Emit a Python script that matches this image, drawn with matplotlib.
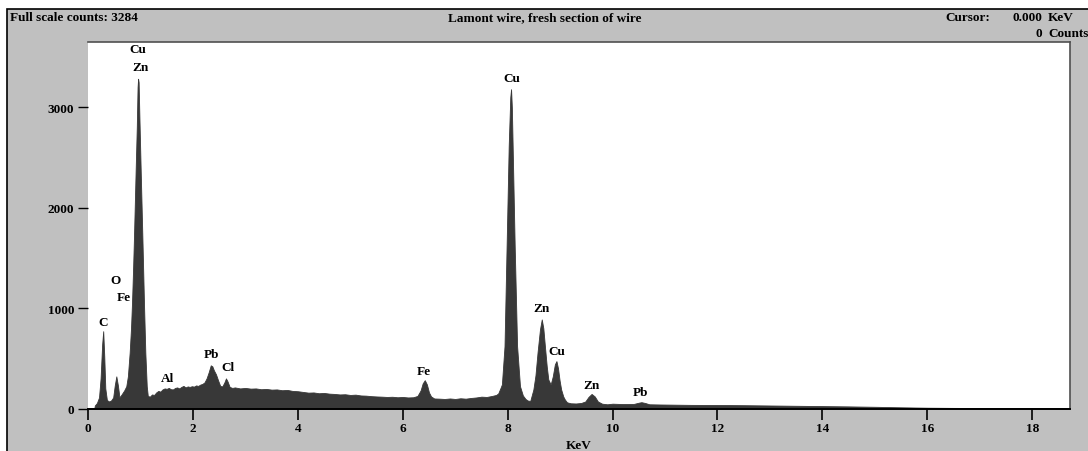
import numpy as np
import matplotlib.pyplot as plt
from matplotlib.patches import Rectangle

# spectrum: energy (keV) and counts
energy = [0.00, 0.12, 0.13, 0.17, 0.21, 0.24, 0.27, 0.29, 0.31, 0.33, 0.36, 0.40, 0.44,
          0.48, 0.51, 0.54, 0.57, 0.60, 0.64, 0.69, 0.73, 0.76, 0.794, 0.82, 0.839,
          0.86, 0.877, 0.909, 0.93, 0.945, 0.955, 0.965, 0.98, 1.004, 1.036, 1.067,
          1.093, 1.12, 1.14, 1.18, 1.22, 1.26, 1.30, 1.34, 1.38, 1.42, 1.46, 1.50,
          1.54, 1.58, 1.62, 1.66, 1.70, 1.74, 1.78, 1.82, 1.86, 1.90, 1.94, 1.98,
          2.02, 2.06, 2.10, 2.14, 2.18, 2.22, 2.26, 2.30, 2.34, 2.37, 2.40, 2.44,
          2.48, 2.52, 2.56, 2.60, 2.63, 2.66, 2.70, 2.75, 2.80, 2.90, 3.00, 3.10,
          3.20, 3.30, 3.40, 3.50, 3.60, 3.70, 3.80, 3.90, 4.00, 4.10, 4.20, 4.30,
          4.40, 4.50, 4.60, 4.70, 4.80, 4.90, 5.00, 5.10, 5.20, 5.30, 5.40, 5.50,
          5.60, 5.70, 5.80, 5.90, 6.00, 6.10, 6.20, 6.28, 6.34, 6.38, 6.42, 6.46,
          6.50, 6.54, 6.60, 6.70, 6.80, 6.90, 7.00, 7.10, 7.20, 7.30, 7.40, 7.50,
          7.60, 7.70, 7.78, 7.82, 7.86, 7.89, 7.94, 7.98, 8.02, 8.05, 8.065, 8.08,
          8.095, 8.134, 8.18, 8.235, 8.29, 8.34, 8.38, 8.43, 8.49, 8.53, 8.57,
          8.616, 8.65, 8.68, 8.71, 8.745, 8.775, 8.82, 8.86, 8.90, 8.93, 8.96, 8.99,
          9.02, 9.06, 9.09, 9.13, 9.20, 9.30, 9.40, 9.48, 9.54, 9.60, 9.66, 9.72,
          9.80, 9.90, 10.0, 10.2, 10.4, 10.5, 10.55, 10.62, 10.7, 10.9, 11.2, 11.5,
          12.0, 12.5, 13.0, 13.5, 14.0, 14.5, 15.0, 15.5, 16.0, 16.5, 17.0, 17.5,
          18.0, 18.72]
counts = [0, 0, 30, 55, 110, 300, 640, 770, 520, 200, 85, 70, 80,
          110, 230, 320, 230, 110, 140, 180, 222, 320, 555, 800, 1054,
          1400, 1718, 2383, 2800, 3200, 3284, 3250, 2900, 2383, 1718, 1054,
          555, 222, 125, 118, 140, 135, 160, 175, 168, 190, 200, 196,
          205, 192, 190, 205, 210, 200, 215, 225, 210, 220, 215, 222,
          218, 230, 225, 238, 245, 260, 300, 360, 430, 420, 380, 340,
          280, 225, 220, 260, 300, 270, 215, 205, 210, 200, 205, 198,
          200, 192, 195, 188, 190, 182, 185, 175, 172, 165, 158, 160,
          152, 155, 148, 145, 140, 142, 135, 138, 130, 128, 123, 120,
          118, 115, 117, 112, 115, 110, 112, 125, 180, 250, 282, 240,
          160, 120, 100, 98, 95, 100, 95, 102, 98, 105, 110, 118,
          115, 125, 135, 150, 200, 240, 620, 1618, 2615, 3100, 3180, 3000,
          2615, 1618, 621, 222, 130, 95, 80, 75, 189, 330, 560,
          788, 887, 800, 621, 420, 289, 239, 320, 440, 472, 400, 280,
          189, 120, 90, 62, 52, 50, 55, 70, 115, 145, 120, 70,
          48, 42, 48, 44, 45, 58, 63, 55, 42, 40, 38, 36,
          35, 33, 30, 27, 24, 21, 17, 12, 8, 6, 5, 4,
          3, 2]

# element labels: text, keV, counts
label_txt = ["Cu", "Zn", "O", "Fe", "C", "Al", "Pb", "Cl", "Fe", "Cu", "Zn", "Cu", "Zn", "Pb"]
label_x = [0.953, 1.01, 0.515, 0.686, 0.286, 1.506, 2.345, 2.669, 6.405, 8.082, 8.654, 8.94, 9.607, 10.54]
label_y = [3579, 3400, 1276, 1107, 857, 299, 538, 409, 369, 3290, 997, 568, 239, 160]

xticks = [0, 2, 4, 6, 8, 10, 12, 14, 16, 18]
yticks = [0, 1000, 2000, 3000]

W, H = 1088, 452
plt.rcParams['font.family'] = ['Liberation Serif', 'DejaVu Serif']
plt.rcParams['font.weight'] = 'bold'
fs = 9.5

fig = plt.figure(figsize=(W / 100, H / 100), dpi=100, facecolor='white')

# grey panel with black top/left border
fig.add_artist(Rectangle((7 / W, -0.1), 1.2, 1.1 - 10 / H, transform=fig.transFigure,
                         facecolor='#c0c0c0', edgecolor='black', lw=1.2, zorder=0))

ax = fig.add_axes([88 / W, 1 - 409.5 / H, (1070 - 88) / W, (409.5 - 43) / H])
ax.set_facecolor('white')
ax.fill_between(energy, counts, 0, color='#383838', lw=0.6, edgecolor='#383838')

for t, x, y in zip(label_txt, label_x, label_y):
    ax.text(x, y, t, ha='center', va='center', fontsize=fs, fontweight='bold')

ax.set_xlim(0, 18.72)
ax.set_ylim(0, 3650)
ax.set_xticks(xticks)
ax.set_yticks(yticks)
ax.set_xticklabels([str(v) for v in xticks], fontsize=fs, fontweight='bold')
ax.set_yticklabels([str(v) for v in yticks], fontsize=fs, fontweight='bold')
ax.tick_params(axis='x', direction='out', length=8, width=1.2, pad=2)
ax.tick_params(axis='y', direction='out', length=7, width=1.0, pad=3)
ax.set_xlabel('KeV', fontsize=fs, fontweight='bold', labelpad=3)

ax.spines['left'].set_visible(False)
ax.spines['bottom'].set_color('black')
ax.spines['bottom'].set_linewidth(1.4)
ax.spines['top'].set_color('#505050')
ax.spines['right'].set_color('#505050')
ax.spines['top'].set_linewidth(1.2)
ax.spines['right'].set_linewidth(1.2)

# header texts
fig.text(10 / W, 1 - 18 / H, 'Full scale counts: 3284', fontsize=fs, fontweight='bold', va='center', ha='left')
fig.text(545 / W, 1 - 18 / H, 'Lamont wire, fresh section of wire', fontsize=fs, fontweight='bold', va='center', ha='center')
fig.text(945 / W, 1 - 18 / H, 'Cursor:', fontsize=fs, fontweight='bold', va='center', ha='left')
fig.text(1042 / W, 1 - 18 / H, '0.000', fontsize=fs, fontweight='bold', va='center', ha='right')
fig.text(1048 / W, 1 - 18 / H, 'KeV', fontsize=fs, fontweight='bold', va='center', ha='left')
fig.text(1042 / W, 1 - 34 / H, '0', fontsize=fs, fontweight='bold', va='center', ha='right')
fig.text(1048 / W, 1 - 34 / H, 'Counts', fontsize=fs, fontweight='bold', va='center', ha='left')

fig.savefig('out.png', dpi=100, facecolor='white')
